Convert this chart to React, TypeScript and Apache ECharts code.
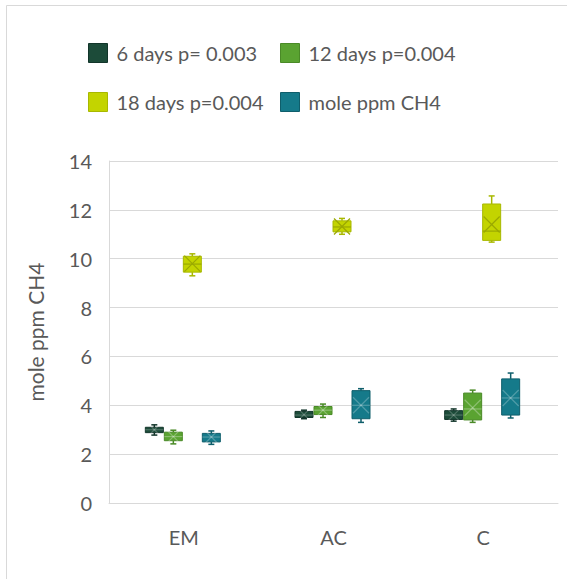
import React, { useEffect, useRef } from "react";
import * as echarts from "echarts";

const categories = ["EM", "AC", "C"];
const seriesNames = ["6 days p= 0.003", "12 days p=0.004", "18 days p=0.004", "mole ppm CH4"];

// [min, q1, median, q3, max, mean] per category (EM, AC, C)
const days6 = [
  [2.78, 2.88, 3.0, 3.1, 3.2, 3.0],
  [3.45, 3.5, 3.6, 3.75, 3.8, 3.62],
  [3.35, 3.42, 3.6, 3.78, 3.85, 3.6],
];
const days12 = [
  [2.42, 2.55, 2.72, 2.9, 2.98, 2.72],
  [3.5, 3.62, 3.8, 3.95, 4.05, 3.8],
  [3.3, 3.4, 3.85, 4.5, 4.62, 3.9],
];
const days18 = [
  [9.3, 9.45, 9.78, 10.1, 10.2, 9.8],
  [11.0, 11.1, 11.3, 11.55, 11.65, 11.32],
  [10.68, 10.75, 11.13, 12.24, 12.57, 11.4],
];
const molePpm = [
  [2.4, 2.5, 2.7, 2.85, 2.95, 2.7],
  [3.3, 3.45, 4.0, 4.6, 4.68, 4.0],
  [3.48, 3.6, 4.3, 5.08, 5.32, 4.3],
];
const yTicks = { min: 0, max: 14, interval: 2 };

const allSeries = [days6, days12, days18, molePpm];
const fills = ["#1c4b39", "#5aa331", "#c3d400", "#157a8a"];
const borders = ["#12352a", "#4a8a27", "#a8b800", "#0f5e6b"];
const innerLines = ["rgba(255,255,255,0.22)", "rgba(255,255,255,0.3)", "#9aa800", "rgba(255,255,255,0.25)"];

const TEXT = "#595959";
const GRID = "#d9d9d9";
const FONT = "Lato";

export default function App() {
  const ref = useRef<HTMLDivElement>(null);
  useEffect(() => {
    if (!ref.current) return;
    const chart = echarts.init(ref.current, null, { renderer: "svg" });
    const spacing = 19;
    const boxW = 18;
    const series = allSeries.map((arr, si) => ({
      type: "custom",
      name: seriesNames[si],
      itemStyle: { color: fills[si] },
      data: arr.map((v, ci) => [ci, ...v]),
      encode: { x: 0, y: [1, 2, 3, 4, 5, 6] },
      renderItem: (params: any, api: any) => {
        const ci = api.value(0);
        const vals = [1, 2, 3, 4, 5, 6].map((d) => api.value(d));
        const ys = vals.map((v) => api.coord([ci, v])[1]);
        const cx = api.coord([ci, 0])[0] + (si - 1.5) * spacing - 1;
        const [yMin, yQ1, yMed, yQ3, yMax, yMean] = ys;
        const half = boxW / 2;
        const cap = 3;
        const lineStyle = { stroke: borders[si], lineWidth: 1.5 };
        const inner = { stroke: innerLines[si], lineWidth: 1.2 };
        return {
          type: "group",
          children: [
            { type: "line", shape: { x1: cx, y1: yMax, x2: cx, y2: yQ3 }, style: lineStyle },
            { type: "line", shape: { x1: cx - cap, y1: yMax, x2: cx + cap, y2: yMax }, style: lineStyle },
            { type: "line", shape: { x1: cx, y1: yMin, x2: cx, y2: yQ1 }, style: lineStyle },
            { type: "line", shape: { x1: cx - cap, y1: yMin, x2: cx + cap, y2: yMin }, style: lineStyle },
            {
              type: "rect",
              shape: { x: cx - half, y: yQ3, width: boxW, height: Math.max(1, yQ1 - yQ3) },
              style: { fill: fills[si], stroke: borders[si], lineWidth: 1 },
            },
            { type: "line", shape: { x1: cx - half, y1: yMed, x2: cx + half, y2: yMed }, style: inner },
            { type: "line", shape: { x1: cx - half + 1, y1: yMean - 8, x2: cx + half - 1, y2: yMean + 8 }, style: inner },
            { type: "line", shape: { x1: cx - half + 1, y1: yMean + 8, x2: cx + half - 1, y2: yMean - 8 }, style: inner },
          ],
        };
      },
    }));

    const legendPos = [
      { left: 88, top: 43 },
      { left: 280, top: 43 },
      { left: 88, top: 92 },
      { left: 280, top: 92 },
    ];

    chart.setOption({
      animation: false,
      textStyle: { fontFamily: FONT },
      graphic: [
        {
          type: "rect",
          shape: { x: 6.5, y: 5.5, width: 700, height: 700 },
          style: { fill: "none", stroke: GRID, lineWidth: 1 },
          silent: true,
        },
      ],
      legend: seriesNames.map((n, i) => ({
        ...legendPos[i],
        padding: 0,
        itemWidth: 19,
        itemHeight: 19,
        icon: "rect",
        selectedMode: false,
        data: [{ name: n, itemStyle: { color: fills[i], borderColor: borders[i], borderWidth: 1 } }],
        textStyle: { fontSize: 20, color: TEXT, fontFamily: FONT, padding: [0, 0, 0, 4] },
      })),
      grid: { left: 109, right: 9, top: 161, bottom: 76, containLabel: false },
      xAxis: {
        type: "category",
        data: categories,
        boundaryGap: true,
        axisTick: { show: false },
        axisLine: { show: true, lineStyle: { color: GRID, width: 1 } },
        axisLabel: { fontSize: 20, color: TEXT, margin: 24, fontFamily: FONT },
        splitLine: { show: false },
      },
      yAxis: {
        type: "value",
        min: yTicks.min,
        max: yTicks.max,
        interval: yTicks.interval,
        name: "mole ppm CH4",
        nameLocation: "middle",
        nameRotate: 90,
        nameGap: 63,
        nameTextStyle: { fontSize: 21, color: TEXT, fontFamily: FONT },
        axisLine: { show: true, lineStyle: { color: GRID, width: 1 } },
        axisTick: { show: false },
        axisLabel: { fontSize: 20, color: TEXT, margin: 17, fontFamily: FONT },
        splitLine: { show: true, lineStyle: { color: GRID, width: 1 } },
      },
      series,
    });
    return () => chart.dispose();
  }, []);
  return (
    <div
      ref={ref}
      style={{ position: "absolute", left: 0, top: 0, width: 567, height: 579, background: "#fff" }}
    />
  );
}
